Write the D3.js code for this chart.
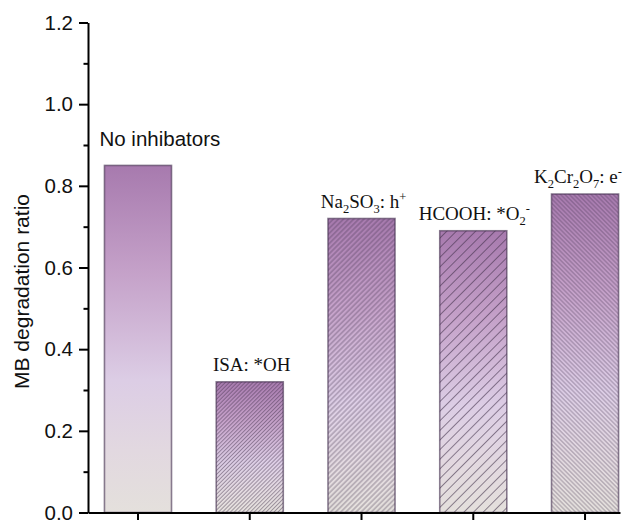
<!DOCTYPE html>
<html>
<head>
<meta charset="utf-8">
<script src="https://cdn.jsdelivr.net/npm/d3@7"></script>
<style>
  html, body { margin: 0; padding: 0; background: #fff; }
  svg { display: block; }
</style>
</head>
<body>
<svg id="chart" width="623" height="520"></svg>
<script>
// Scavenger experiment: MB degradation ratio with different inhibitors
const categories = ["No inhibators", "ISA: *OH", "Na2SO3: h+", "HCOOH: *O2-", "K2Cr2O7: e-"];
const values = [0.85, 0.32, 0.72, 0.69, 0.78];
// rich-text pieces for each category label: [text, "" | "sub" | "sup"]
const labelParts = [
  [["No inhibators", ""]],
  [["ISA: *OH", ""]],
  [["Na", ""], ["2", "sub"], ["SO", ""], ["3", "sub"], [": h", ""], ["+", "sup"]],
  [["HCOOH: *O", ""], ["2", "sub"], ["-", "sup"]],
  [["K", ""], ["2", "sub"], ["Cr", ""], ["2", "sub"], ["O", ""], ["7", "sub"], [": e", ""], ["-", "sup"]]
];
const yMajorTicks = [0.0, 0.2, 0.4, 0.6, 0.8, 1.0, 1.2];
const yMinorTicks = [0.1, 0.3, 0.5, 0.7, 0.9, 1.1];
const yTitle = "MB degradation ratio";

// hatch style per bar: direction, line spacing (perpendicular), line width
const hatchStyles = [
  null,
  { angle: 45, gap: 2.8, width: 0.7 },
  { angle: 45, gap: 3.6, width: 0.8 },
  { angle: 45, gap: 6.8, width: 0.9 },
  { angle: -45, gap: 3.1, width: 0.7 }
];

const svg = d3.select("#chart");
const W = 623, H = 520;
const margin = { left: 88, right: 3, top: 22.5, bottom: 7.5 };

const x = d3.scaleBand()
  .domain(d3.range(categories.length))
  .range([margin.left, W - margin.right])
  .paddingInner(0.4)
  .paddingOuter(0.08)
  .align(0.92);

const y = d3.scaleLinear()
  .domain([0, 1.2])
  .range([H - margin.bottom, margin.top]);

const defs = svg.append("defs");

// vertical purple-to-grey fill, relative to each bar
const grad = defs.append("linearGradient")
  .attr("id", "barFill")
  .attr("x1", 0).attr("y1", 0).attr("x2", 0).attr("y2", 1);
[
  [0.00, "#a77aae"],
  [0.30, "#c4a0c8"],
  [0.62, "#dccde5"],
  [0.82, "#e2d8e0"],
  [1.00, "#e4e0dc"]
].forEach(([o, c]) => grad.append("stop").attr("offset", o).attr("stop-color", c));

hatchStyles.forEach((h, i) => {
  if (!h) return;
  const p = defs.append("pattern")
    .attr("id", "hatch" + i)
    .attr("patternUnits", "userSpaceOnUse")
    .attr("width", h.gap)
    .attr("height", 10)
    .attr("patternTransform", `rotate(${h.angle})`);
  p.append("line")
    .attr("x1", h.gap / 2).attr("x2", h.gap / 2)
    .attr("y1", 0).attr("y2", 10)
    .attr("stroke", "rgba(60,45,70,0.62)")
    .attr("stroke-width", h.width);
});

// bars
const bars = svg.append("g").attr("class", "bars");
bars.selectAll("rect.fill")
  .data(values)
  .join("rect")
  .attr("class", "fill")
  .attr("x", (d, i) => x(i))
  .attr("y", d => y(d))
  .attr("width", x.bandwidth())
  .attr("height", d => y(0) - y(d))
  .attr("fill", "url(#barFill)");

bars.selectAll("rect.hatch")
  .data(values.map((v, i) => ({ v, i })).filter(d => hatchStyles[d.i]))
  .join("rect")
  .attr("class", "hatch")
  .attr("x", d => x(d.i))
  .attr("y", d => y(d.v))
  .attr("width", x.bandwidth())
  .attr("height", d => y(0) - y(d.v))
  .attr("fill", d => `url(#hatch${d.i})`);

bars.selectAll("rect.edge")
  .data(values)
  .join("rect")
  .attr("class", "edge")
  .attr("x", (d, i) => x(i))
  .attr("y", d => y(d))
  .attr("width", x.bandwidth())
  .attr("height", d => y(0) - y(d))
  .attr("fill", "none")
  .attr("stroke", "rgba(70,50,80,0.62)")
  .attr("stroke-width", 1.6);

// axes
const yAxis = svg.append("g")
  .attr("transform", `translate(${margin.left},0)`)
  .call(d3.axisLeft(y).tickValues(yMajorTicks).tickSize(9).tickSizeOuter(0)
    .tickPadding(6).tickFormat(d3.format(".1f")));
svg.append("g")
  .attr("transform", `translate(${margin.left},0)`)
  .call(d3.axisLeft(y).tickValues(yMinorTicks).tickSize(4.5).tickSizeOuter(0).tickFormat(""))
  .call(g => g.select(".domain").remove());

const xAxis = svg.append("g")
  .attr("transform", `translate(0,${y(0)})`)
  .call(d3.axisBottom(x).tickSize(8).tickSizeOuter(0).tickFormat(""));

svg.selectAll(".domain, .tick line")
  .attr("stroke", "#000")
  .attr("stroke-width", 2);
yAxis.selectAll(".tick text")
  .attr("font-family", "Arial, 'Liberation Sans', sans-serif")
  .attr("font-size", 20.5)
  .attr("fill", "#111");

// y title
svg.append("text")
  .attr("transform", `translate(29,${y(0.6) + 24}) rotate(-90)`)
  .attr("text-anchor", "middle")
  .attr("font-family", "Arial, 'Liberation Sans', sans-serif")
  .attr("font-size", 21)
  .attr("fill", "#111")
  .text(yTitle);

// category labels above bars (last one nudged left to stay inside the frame)
const labelNudge = [0, 2, 2, 1, -7];
const labels = svg.append("g");
labelParts.forEach((parts, i) => {
  const top = y(values[i]);
  const t = labels.append("text").attr("fill", "#111");
  if (i === 0) {
    t.attr("x", x(i) - 5)
      .attr("y", top - 19)
      .attr("font-family", "Arial, 'Liberation Sans', sans-serif")
      .attr("font-size", 20.5)
      .attr("text-anchor", "start");
  } else {
    t.attr("x", x(i) + x.bandwidth() / 2 + labelNudge[i])
      .attr("y", top - 11)
      .attr("font-family", "'Times New Roman', 'Liberation Serif', serif")
      .attr("font-size", 19)
      .attr("text-anchor", "middle");
  }
  let shift = 0;
  parts.forEach(([s, kind]) => {
    const target = kind === "sub" ? 5 : kind === "sup" ? -7 : 0;
    t.append("tspan")
      .attr("dy", target - shift)
      .attr("font-size", kind ? 12.5 : null)
      .text(s);
    shift = target;
  });
});
</script>
</body>
</html>
